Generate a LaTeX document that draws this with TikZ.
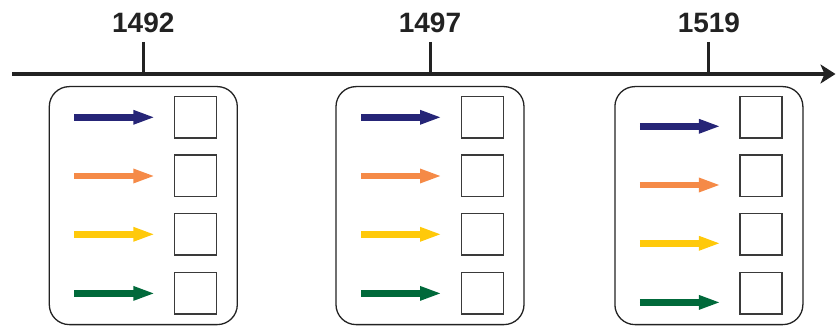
\documentclass[tikz,border=0pt]{standalone}
\usepackage{fontspec}
\setmainfont{Liberation Sans}
\usetikzlibrary{arrows.meta}
\definecolor{cnavy}{HTML}{262577}
\definecolor{corange}{HTML}{F58A47}
\definecolor{cyellow}{HTML}{FFC90A}
\definecolor{cgreen}{HTML}{00693A}
\definecolor{cline}{HTML}{222222}
\definecolor{cbox}{HTML}{3A3A3A}
\tikzset{
  panel/.style={draw=cline, line width=1.3pt, rounded corners=20pt, minimum width=188pt, minimum height=238pt, inner sep=0pt},
  slot/.style={draw=cbox, line width=1.5pt, minimum width=42pt, minimum height=41.5pt, inner sep=0pt, fill=white},
  yearlabel/.style={font=\fontsize{28}{32}\selectfont\bfseries, text=cline, inner sep=0pt},
  axis/.style={draw=cline, line width=3.2pt, -{Stealth[length=15pt, width=19pt, inset=4pt]}},
  tickline/.style={draw=cline, line width=3pt},
  colarrow/.style={line width=6.5pt, -{Triangle[length=22pt, width=13pt]}},
}
\begin{document}
\begin{tikzpicture}[x=1pt, y=-1pt]
\useasboundingbox (0,0) rectangle (836,326);
\coordinate (ax0) at (12,74);
\coordinate (ax1) at (835.5,74);
\draw[axis] (ax0) -- (ax1);
\foreach \i/\cx/\yr/\dy in {1/143.3/1492/0, 2/430/1497/0, 3/708.9/1519/9}{
  \node[yearlabel] (y\i) at (\cx,23) {\yr};
  \coordinate (t\i a) at (\cx,42);
  \coordinate (t\i b) at (\cx,74);
  \draw[tickline] (t\i a) -- (t\i b);
  \node[panel] (p\i) at (\cx,205.6) {};
  \foreach \j/\sy/\col in {1/117.3/cnavy, 2/176/corange, 3/234.3/cyellow, 4/293.4/cgreen}{
    \node[slot] (s\i\j) at (\cx+52.3,\sy) {};
    \coordinate (a\i\j) at (\cx-69,\sy+\dy);
    \coordinate (b\i\j) at (\cx+12,\sy+\dy);
    \draw[colarrow, draw=\col, fill=\col] (a\i\j) -- (b\i\j);
  }
}
\end{tikzpicture}
\end{document}
